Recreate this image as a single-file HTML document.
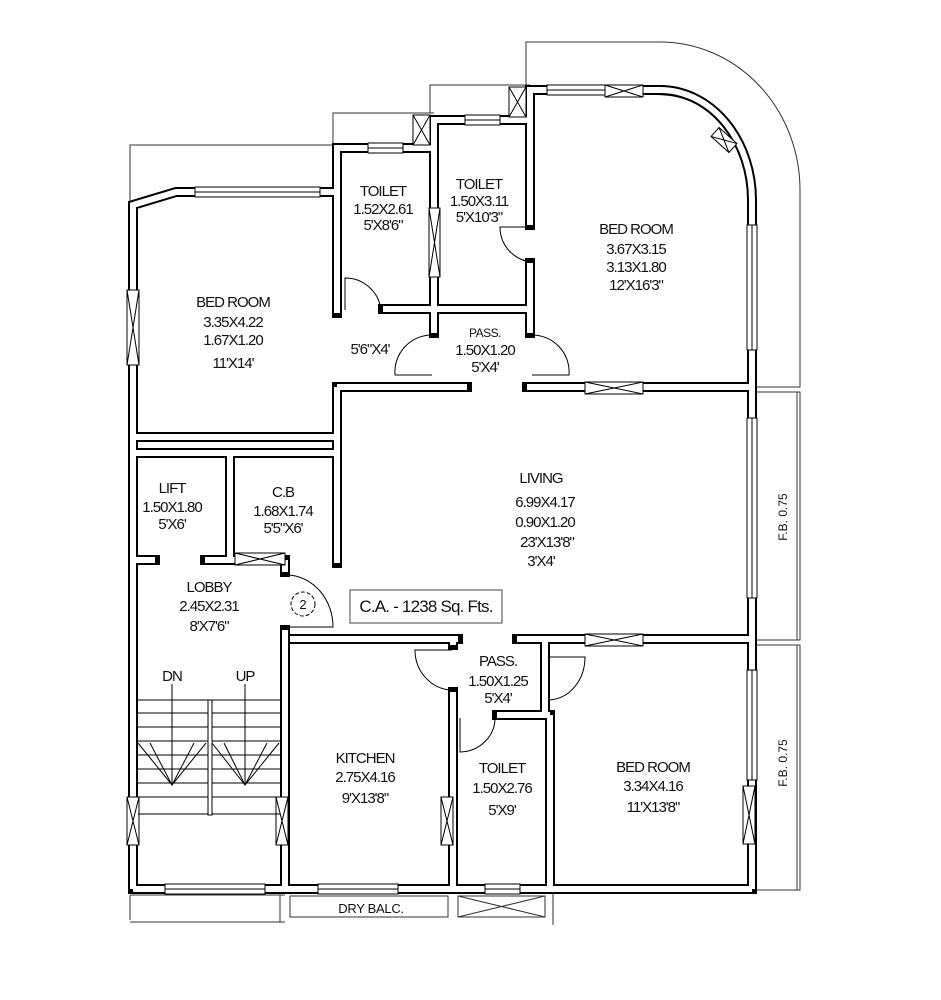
<!DOCTYPE html>
<html><head><meta charset="utf-8"><style>
html,body{margin:0;padding:0;background:#fff}
svg{display:block}
text{font-family:"Liberation Sans",Arial,sans-serif;font-size:15px;letter-spacing:-1px;fill:#111;text-anchor:middle}
</style></head><body>
<svg width="941" height="1000" viewBox="0 0 941 1000" xmlns="http://www.w3.org/2000/svg">
<rect width="941" height="1000" fill="#fff"/>
<g fill="none" stroke="#333" stroke-width="1">
<polyline points="130,205 130,145 337,145"/>
<polyline points="333,145 333,113 434,113"/>
<polyline points="430,113 430,85 530,85"/>
<path d="M526,85 L526,42 L660,42 A140,148 0 0 1 800,190 L800,387 L757,387"/>
<polyline points="757,392 800,392 800,640 757,640"/>
<line x1="797" y1="392" x2="797" y2="640"/>
<polyline points="757,645 800,645 800,890 757,890"/>
<line x1="797" y1="645" x2="797" y2="890"/>
<line x1="130" y1="895" x2="130" y2="920"/>
<line x1="130" y1="895" x2="285" y2="895"/>
<line x1="280" y1="895" x2="280" y2="922"/>
<line x1="130" y1="922" x2="285" y2="922"/>
<rect x="290" y="896" width="158" height="21"/>
<rect x="458" y="896" width="87" height="21"/>
<line x1="458" y1="896" x2="545" y2="917"/><line x1="458" y1="917" x2="545" y2="896"/>
<line x1="553" y1="893" x2="553" y2="925"/>
<line x1="553" y1="893" x2="757" y2="893"/>
</g>
<g fill="none" stroke-linejoin="miter" stroke-linecap="square">
<g stroke="#000" stroke-width="10">
<polyline points="133,889 133,205 176,192 337,192"/>
<polyline points="337,313 337,148 434,148 434,120 530,120 530,90 660,90"/>
<path d="M660,90 A92,110 0 0 1 752,200 L752,889"/>
<line x1="383" y1="309" x2="530" y2="309"/>
<line x1="434" y1="148" x2="434" y2="333"/>
<line x1="530" y1="90" x2="530" y2="225"/>
<line x1="530" y1="263" x2="530" y2="333"/>
<line x1="337" y1="387" x2="467" y2="387"/>
<line x1="527" y1="387" x2="752" y2="387"/>
<line x1="337" y1="387" x2="337" y2="563"/>
<line x1="133" y1="437" x2="337" y2="437"/>
<line x1="133" y1="453" x2="337" y2="453"/>
<line x1="230" y1="453" x2="230" y2="560"/>
<line x1="133" y1="560" x2="155" y2="560"/>
<line x1="205" y1="560" x2="285" y2="560"/>
<line x1="285" y1="560" x2="285" y2="572"/>
<line x1="285" y1="630" x2="285" y2="889"/>
<line x1="290" y1="639" x2="458" y2="639"/>
<line x1="517" y1="639" x2="752" y2="639"/>
<line x1="453" y1="639" x2="453" y2="645"/>
<line x1="453" y1="692" x2="453" y2="889"/>
<line x1="497" y1="715" x2="550" y2="715"/>
<line x1="545" y1="639" x2="545" y2="715"/>
<line x1="550" y1="715" x2="550" y2="889"/>
<line x1="133" y1="889" x2="752" y2="889"/>
</g>
<g stroke="#fff" stroke-width="6" stroke-linecap="butt">
<polyline points="133,889 133,205 176,192 337,192"/>
<polyline points="337,313 337,148 434,148 434,120 530,120 530,90 660,90"/>
<path d="M660,90 A92,110 0 0 1 752,200 L752,889"/>
<line x1="383" y1="309" x2="530" y2="309"/>
<line x1="434" y1="148" x2="434" y2="333"/>
<line x1="530" y1="90" x2="530" y2="225"/>
<line x1="530" y1="263" x2="530" y2="333"/>
<line x1="337" y1="387" x2="467" y2="387"/>
<line x1="527" y1="387" x2="752" y2="387"/>
<line x1="337" y1="387" x2="337" y2="563"/>
<line x1="133" y1="437" x2="337" y2="437"/>
<line x1="133" y1="453" x2="337" y2="453"/>
<line x1="230" y1="453" x2="230" y2="560"/>
<line x1="133" y1="560" x2="155" y2="560"/>
<line x1="205" y1="560" x2="285" y2="560"/>
<line x1="285" y1="560" x2="285" y2="572"/>
<line x1="285" y1="630" x2="285" y2="889"/>
<line x1="290" y1="639" x2="458" y2="639"/>
<line x1="517" y1="639" x2="752" y2="639"/>
<line x1="453" y1="639" x2="453" y2="645"/>
<line x1="453" y1="692" x2="453" y2="889"/>
<line x1="497" y1="715" x2="550" y2="715"/>
<line x1="545" y1="639" x2="545" y2="715"/>
<line x1="550" y1="715" x2="550" y2="889"/>
<line x1="133" y1="889" x2="752" y2="889"/>
</g>
</g>
<g stroke="#000" stroke-width="1" fill="#fff">
<rect x="195" y="187" width="125" height="10"/><line x1="195" y1="192" x2="320" y2="192"/>
<rect x="368" y="143" width="35" height="10"/><line x1="368" y1="148" x2="403" y2="148"/>
<rect x="465" y="115" width="35" height="10"/><line x1="465" y1="120" x2="500" y2="120"/>
<rect x="547" y="85" width="58" height="10"/><line x1="547" y1="90" x2="605" y2="90"/>
<rect x="747" y="225" width="10" height="125"/><line x1="752" y1="225" x2="752" y2="350"/>
<rect x="747" y="418" width="10" height="180"/><line x1="752" y1="418" x2="752" y2="598"/>
<rect x="747" y="670" width="10" height="110"/><line x1="752" y1="670" x2="752" y2="780"/>
<rect x="165" y="884" width="100" height="10"/><line x1="165" y1="889" x2="265" y2="889"/>
<rect x="318" y="884" width="80" height="10"/><line x1="318" y1="889" x2="398" y2="889"/>
<rect x="485" y="884" width="35" height="10"/><line x1="485" y1="889" x2="520" y2="889"/>
</g>
<g stroke="#000" stroke-width="1" fill="#fff">
<rect x="413" y="115" width="17" height="30"/><path d="M413,115 L430,145 M430,115 L413,145" fill="none"/>
<rect x="509" y="87" width="17" height="30"/><path d="M509,87 L526,117 M526,87 L509,117" fill="none"/>
<rect x="605" y="85" width="38" height="12"/><path d="M605,85 L643,97 M643,85 L605,97" fill="none"/>
<g transform="rotate(42 724 140)"><rect x="712" y="134" width="24" height="12"/><path d="M712,134 L736,146 M736,134 L712,146" fill="none"/></g>
<rect x="429" y="208" width="11" height="69"/><path d="M429,208 L440,277 M440,208 L429,277" fill="none"/>
<rect x="127" y="290" width="12" height="75"/><path d="M127,290 L139,365 M139,290 L127,365" fill="none"/>
<rect x="585" y="382" width="58" height="12"/><path d="M585,382 L643,394 M643,382 L585,394" fill="none"/>
<rect x="585" y="634" width="58" height="12"/><path d="M585,634 L643,646 M643,634 L585,646" fill="none"/>
<rect x="235" y="553" width="50" height="12"/><path d="M235,553 L285,565 M285,553 L235,565" fill="none"/>
<rect x="127" y="797" width="12" height="48"/><path d="M127,797 L139,845 M139,797 L127,845" fill="none"/>
<rect x="276" y="797" width="12" height="48"/><path d="M276,797 L288,845 M288,797 L276,845" fill="none"/>
<rect x="441" y="797" width="12" height="48"/><path d="M441,797 L453,845 M453,797 L441,845" fill="none"/>
<rect x="743" y="786" width="12" height="58"/><path d="M743,786 L755,844 M755,786 L743,844" fill="none"/>
</g>
<g fill="none" stroke="#000" stroke-width="1">
<path d="M345,310 L345,278 A36,36 0 0 1 381,310"/>
<path d="M532,227 L500,227 A35,35 0 0 0 532,262"/>
<path d="M432,335 A37,37 0 0 0 395,375 L432,375"/>
<path d="M532,335 A37,37 0 0 1 569,375 L532,375"/>
<path d="M288,575 A47,52 0 0 1 333,627 L288,627"/>
<path d="M452,650 L415,650 A38,40 0 0 0 452,690"/>
<path d="M548,657 L585,657 A37,43 0 0 1 548,700"/>
<path d="M460,718 L460,752 A36,34 0 0 0 495,718"/>
</g>
<g stroke="#000" stroke-width="1" fill="none">
<line x1="138" y1="700" x2="280" y2="700"/><line x1="138" y1="713" x2="280" y2="713"/>
<line x1="138" y1="727" x2="280" y2="727"/><line x1="138" y1="741" x2="280" y2="741"/>
<line x1="138" y1="755" x2="280" y2="755"/><line x1="138" y1="769" x2="280" y2="769"/>
<line x1="138" y1="783" x2="280" y2="783"/><line x1="138" y1="797" x2="280" y2="797"/>
<line x1="138" y1="814" x2="280" y2="814"/>
<rect x="208" y="700" width="4" height="115" fill="#fff"/>
<line x1="172" y1="684" x2="172" y2="785"/><line x1="245" y1="684" x2="245" y2="785"/>
<path d="M138,743 L172,785 L206,743 M150,743 L172,785 L194,743"/>
<path d="M212,743 L245,785 L279,743 M224,743 L245,785 L267,743"/>
<circle cx="303" cy="604" r="12" stroke-dasharray="4,2"/>
<rect x="350" y="590" width="152" height="33" stroke="#444"/>
</g>
<text x="233" y="307">BED ROOM</text><text x="233" y="327">3.35X4.22</text><text x="233" y="345">1.67X1.20</text><text x="233" y="368">11'X14'</text>
<text x="383" y="196">TOILET</text><text x="383" y="214">1.52X2.61</text><text x="383" y="230">5'X8'6"</text>
<text x="479" y="189">TOILET</text><text x="479" y="206">1.50X3.11</text><text x="479" y="222">5'X10'3"</text>
<text x="636" y="234">BED ROOM</text><text x="636" y="254">3.67X3.15</text><text x="636" y="272">3.13X1.80</text><text x="636" y="290">12'X16'3"</text>
<text x="370" y="354">5'6"X4'</text>
<text x="485" y="337" style="font-size:12px;letter-spacing:-0.5px">PASS.</text><text x="485" y="355">1.50X1.20</text><text x="485" y="372">5'X4'</text>
<text x="541" y="483">LIVING</text><text x="545" y="507">6.99X4.17</text><text x="545" y="527">0.90X1.20</text><text x="547" y="547">23'X13'8"</text><text x="541" y="566">3'X4'</text>
<text x="172" y="493">LIFT</text><text x="172" y="512">1.50X1.80</text><text x="172" y="529">5'X6'</text>
<text x="283" y="497">C.B</text><text x="283" y="516">1.68X1.74</text><text x="283" y="533">5'5"X6'</text>
<text x="209" y="592">LOBBY</text><text x="209" y="611">2.45X2.31</text><text x="209" y="631">8'X7'6"</text>
<text x="303" y="609" style="font-size:13px;letter-spacing:0">2</text>
<text x="426" y="612" style="font-size:17px;letter-spacing:-0.8px">C.A. - 1238 Sq. Fts.</text>
<text x="172" y="681">DN</text><text x="245" y="681">UP</text>
<text x="498" y="666">PASS.</text><text x="498" y="686">1.50X1.25</text><text x="498" y="703">5'X4'</text>
<text x="365" y="763">KITCHEN</text><text x="365" y="782">2.75X4.16</text><text x="365" y="803">9'X13'8"</text>
<text x="502" y="773">TOILET</text><text x="502" y="793">1.50X2.76</text><text x="502" y="815">5'X9'</text>
<text x="653" y="772">BED ROOM</text><text x="653" y="791">3.34X4.16</text><text x="653" y="812">11'X13'8"</text>
<text transform="translate(787,517) rotate(-90)" style="font-size:12px;letter-spacing:0">F.B. 0.75</text>
<text transform="translate(787,763) rotate(-90)" style="font-size:12px;letter-spacing:0">F.B. 0.75</text>
<text x="371" y="913" style="font-size:13px;letter-spacing:-0.3px">DRY BALC.</text>
</svg>
</body></html>
